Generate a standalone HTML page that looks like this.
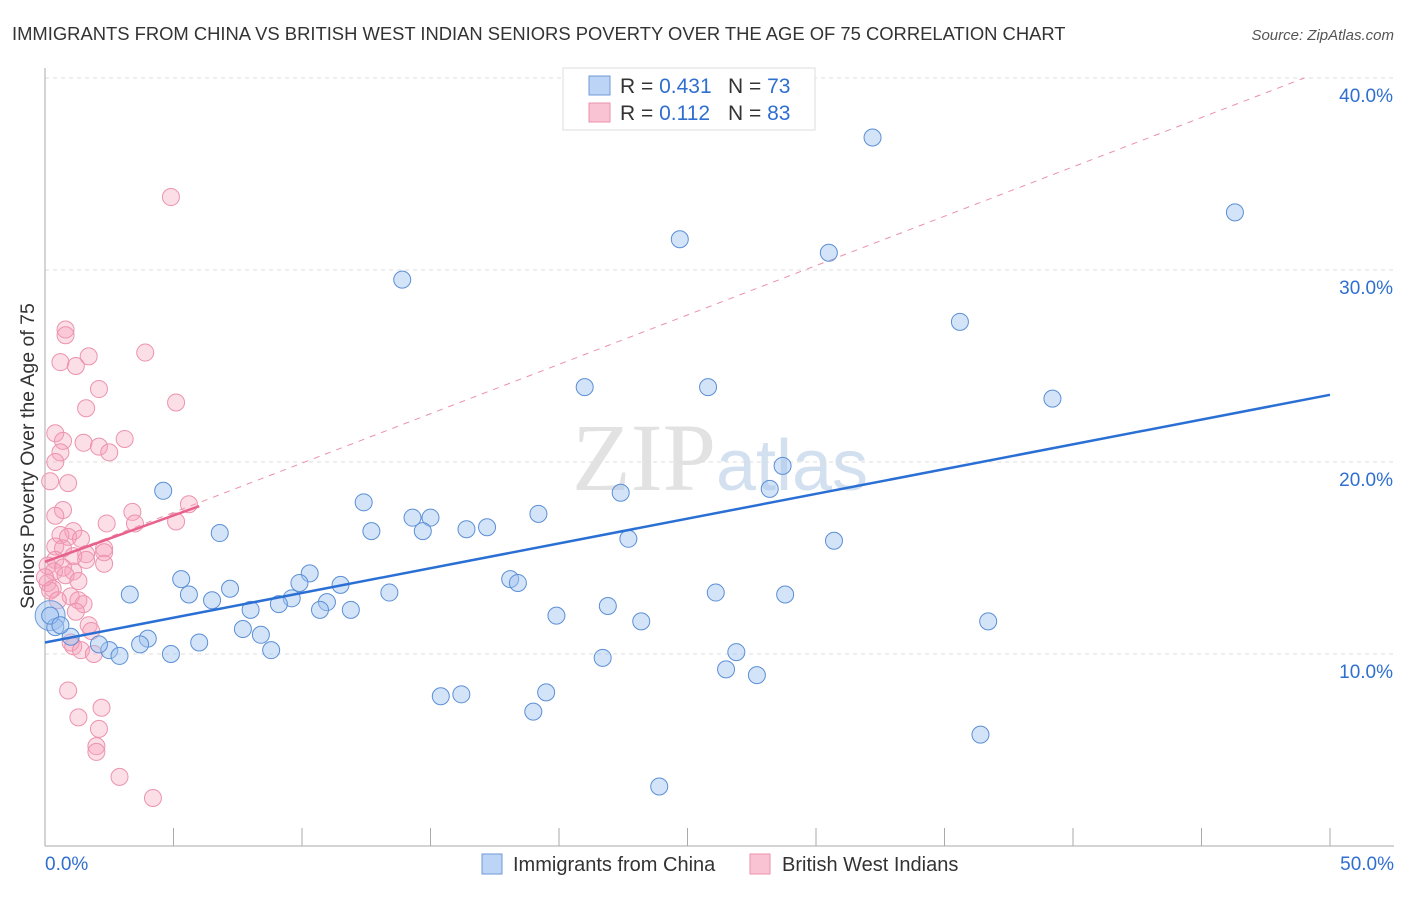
<!DOCTYPE html>
<html><head><meta charset="utf-8"><style>
body{margin:0;background:#fff;font-family:"Liberation Sans",sans-serif;}
svg text{font-family:"Liberation Sans",sans-serif;}
</style></head><body>
<svg id="c" width="1406" height="892">
<text x="12" y="40" font-size="18.4" fill="#333">IMMIGRANTS FROM CHINA VS BRITISH WEST INDIAN SENIORS POVERTY OVER THE AGE OF 75 CORRELATION CHART</text>
<text x="1394" y="40" font-size="15" fill="#555" font-style="italic" text-anchor="end">Source: ZipAtlas.com</text>
<text x="720" y="490" font-size="96" fill="#e2e2e2" text-anchor="middle" font-family="Liberation Serif"><tspan font-family="Liberation Serif">ZIP</tspan><tspan fill="#d3e0f0" font-family="Liberation Sans" font-size="72">atlas</tspan></text>
<g id="grid"></g><g id="marks"></g>
<text transform="translate(34,456) rotate(-90)" font-size="19.5" fill="#333" text-anchor="middle">Seniors Poverty Over the Age of 75</text>
<g>
<rect x="563" y="68" width="252" height="62" fill="#fff" stroke="#ddd"/>
<rect x="589" y="76" width="21" height="19" fill="#bcd4f5" stroke="#6f9ad8"/>
<rect x="589" y="103" width="21" height="19" fill="#f9c3d3" stroke="#eb90ab"/>
<text x="620" y="93" font-size="21" fill="#333">R = <tspan fill="#2f6fd0">0.431</tspan></text>
<text x="728" y="93" font-size="21" fill="#333">N = <tspan fill="#2f6fd0">73</tspan></text>
<text x="620" y="120" font-size="21" fill="#333">R = <tspan fill="#2f6fd0"> 0.112</tspan></text>
<text x="728" y="120" font-size="21" fill="#333">N = <tspan fill="#2f6fd0">83</tspan></text>
</g>
<g>
<rect x="482" y="854" width="20" height="20" fill="#bcd4f5" stroke="#6f9ad8"/>
<text x="513" y="871" font-size="20" fill="#333">Immigrants from China</text>
<rect x="750" y="854" width="20" height="20" fill="#f9c3d3" stroke="#eb90ab"/>
<text x="782" y="871" font-size="20" fill="#333">British West Indians</text>
</g>
</svg>
<script>
const yTicks=[10,20,30,40];
const xTickLabels=["0.0%","50.0%"];
const blueX=[32.2,46.3,24.7,30.5,13.9,35.6,39.2,21.0,25.8,28.7,28.2,4.6,22.4,12.4,19.2,14.3,15.0,12.7,14.7,16.4,17.2,6.8,22.7,30.7,5.3,10.3,9.9,18.1,18.4,11.5,7.2,3.3,5.6,6.5,13.4,9.6,9.1,19.9,26.1,28.8,8.0,10.97,10.7,11.9,21.9,23.2,36.7,7.7,8.4,0.4,4.0,1.0,2.5,2.1,2.9,3.7,4.9,6.0,8.8,21.7,26.9,26.5,27.7,15.4,16.2,19.5,19.0,36.4,23.9,0.2,0.6];
const blueY=[36.9,33.0,31.6,30.9,29.5,27.3,23.3,23.9,23.9,19.8,18.6,18.5,18.4,17.9,17.3,17.1,17.1,16.4,16.4,16.5,16.6,16.3,16.0,15.9,13.9,14.2,13.7,13.9,13.7,13.6,13.4,13.1,13.1,12.8,13.2,12.9,12.6,12.0,13.2,13.1,12.3,12.7,12.3,12.3,12.5,11.7,11.7,11.3,11.0,11.4,10.8,10.9,10.2,10.5,9.9,10.5,10.0,10.6,10.2,9.8,10.1,9.2,8.9,7.8,7.9,8.0,7.0,5.8,3.1,12.0,11.5];
const pinkX=[4.9,0.8,0.8,3.9,1.7,1.2,0.6,2.1,5.1,1.6,0.4,3.1,0.7,1.5,2.1,0.6,2.5,0.4,0.2,0.9,5.6,3.4,0.7,0.4,3.5,2.4,5.1,1.1,0.6,0.9,1.4,0.4,0.7,2.3,1.6,2.3,1.6,1.1,0.4,2.3,0.1,0.7,1.1,0.35,0.8,1.3,0.1,0.3,1.0,1.3,1.5,1.2,1.7,1.8,1.0,1.1,1.4,1.9,0.9,2.2,1.3,2.1,2.0,2.0,2.9,4.2,0.2,0.5,0.0];
const pinkY=[33.8,26.9,26.6,25.7,25.5,25.0,25.2,23.8,23.1,22.8,21.5,21.2,21.1,21.0,20.8,20.5,20.5,20.0,19.0,18.9,17.8,17.4,17.5,17.2,16.8,16.8,16.9,16.4,16.2,16.1,16.0,15.6,15.5,15.5,15.2,15.3,14.9,15.1,14.9,14.7,14.6,14.5,14.3,14.3,14.1,13.8,13.7,13.4,13.0,12.8,12.6,12.2,11.5,11.2,10.6,10.4,10.2,10.0,8.1,7.2,6.7,6.1,5.2,4.9,3.6,2.5,13.3,12.8,14.0];
const X=v=>45+v*25.7, Y=v=>846-v*19.2;
const NS='http://www.w3.org/2000/svg';
function mk(tag,attrs,parent){const e=document.createElementNS(NS,tag);for(const k in attrs)e.setAttribute(k,attrs[k]);parent.appendChild(e);return e;}
const g=document.getElementById('grid'), m=document.getElementById('marks');
yTicks.forEach(t=>{
 const l=mk('line',{x1:45,x2:1394,y1:Y(t),y2:Y(t),stroke:'#ddd','stroke-dasharray':'4,4'},g);
 
 
 const tx=mk('text',{x:1393,y:Y(t)+24,'font-size':19,fill:'#2f6fd0','text-anchor':'end'},g);
 tx.textContent=t.toFixed(1)+'%';
 
 
});
mk('line',{x1:45,x2:45,y1:68,y2:846,stroke:'#aaa'},g);
mk('line',{x1:45,x2:1394,y1:846,y2:846,stroke:'#aaa'},g);
for(let i=0;i<=50;i+=5){const t=mk('line',{x1:X(i),x2:X(i),y1:828,y2:846,stroke:'#aaa'},g);
 
 }
const xl0=mk('text',{x:45,y:870,'font-size':19,fill:'#2f6fd0'},g);xl0.textContent=xTickLabels[0];
const xl1=mk('text',{x:1394,y:870,'font-size':19,fill:'#2f6fd0','text-anchor':'end'},g);xl1.textContent=xTickLabels[1];
const pd=mk('line',{x1:X(0),y1:Y(14.8),x2:X(49),y2:Y(40),stroke:'#eb90ab','stroke-dasharray':'6,6','stroke-width':1},m);


pinkX.forEach((v,i)=>{const c=mk('circle',{cx:X(v),cy:Y(pinkY[i]),r:8.5,fill:'rgba(245,160,185,0.35)',stroke:'#ec93ae','stroke-width':1},m);
 
 });
const big=mk('circle',{cx:X(0.2),cy:Y(12.0),r:15,fill:'rgba(160,195,240,0.5)',stroke:'#6f9ad8'},m);


blueX.forEach((v,i)=>{const c=mk('circle',{cx:X(v),cy:Y(blueY[i]),r:8.5,fill:'rgba(160,195,240,0.45)',stroke:'#5b8fd6','stroke-width':1},m);
 
 });
const bl=mk('line',{x1:X(0),y1:Y(10.6),x2:X(50),y2:Y(23.5),stroke:'#2a6fd4','stroke-width':2.5},m);


const pl=mk('line',{x1:X(0),y1:Y(14.8),x2:X(6.0),y2:Y(17.7),stroke:'#e8618c','stroke-width':2.5},m);


</script>
</body></html>
